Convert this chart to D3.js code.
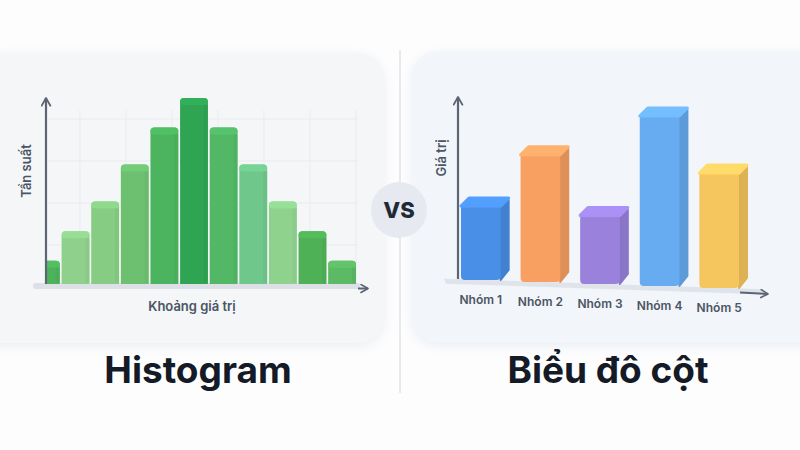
<!DOCTYPE html>
<meta charset="utf-8">
<style>
    body { margin: 0; background: #fdfdfe; }
    text { font-family: Inter, "Noto Sans", sans-serif; }
    .axisLabel { font-size: 13px; font-weight: 600; fill: #4b5563; }
    .title { font-size: 37px; font-weight: 700; fill: #141a26; }
</style>
<body>
    <script src="https://d3js.org/d3.v7.min.js"></script>
    <script>
        // data
        let histBins = d3.range(11);
        let histFreq = [3, 7, 11, 16, 21, 25, 21, 16, 11, 7, 3];
        let histColors = ['#4db35a', '#8fd18c', '#86cc82', '#6cc070', '#4cb45e', '#2fa553',
                          '#52b866', '#6fc78b', '#8ed28e', '#4fb155', '#5cb964'];

        let groups = ['Nhóm 1', 'Nhóm 2', 'Nhóm 3', 'Nhóm 4', 'Nhóm 5'];
        let groupValues = [46, 76, 43, 100, 69];
        let groupColors = ['#4a8fe7', '#f7a062', '#9a82dc', '#67abf0', '#f6c65e'];

        let width = 800, height = 450;
        let svg = d3.select("body").append("svg")
            .attr("width", width)
            .attr("height", height);

        let defs = svg.append("defs");
        let blur = defs.append("filter").attr("id", "soft")
            .attr("x", "-20%").attr("y", "-20%").attr("width", "140%").attr("height", "140%");
        blur.append("feGaussianBlur").attr("stdDeviation", 6);

        function arrowHead(id) {
            defs.append("marker").attr("id", id)
                .attr("viewBox", "0 0 10 10").attr("refX", 8).attr("refY", 5)
                .attr("markerWidth", 5).attr("markerHeight", 5)
                .attr("orient", "auto")
              .append("path")
                .attr("d", "M1,1 L8,5 L1,9")
                .attr("fill", "none").attr("stroke", "#5b6574").attr("stroke-width", 1.6)
                .attr("stroke-linecap", "round").attr("stroke-linejoin", "round");
        }
        arrowHead("arr");

        // panels
        svg.append("rect").attr("x", -30).attr("y", 56).attr("width", 414).attr("height", 290)
            .attr("rx", 26).attr("fill", "#eaedf2").attr("filter", "url(#soft)");
        svg.append("rect").attr("x", -30).attr("y", 53).attr("width", 414).attr("height", 290)
            .attr("rx", 26).attr("fill", "#f4f6f8");
        svg.append("rect").attr("x", 412).attr("y", 54).attr("width", 420).attr("height", 292)
            .attr("rx", 26).attr("fill", "#e9edf3").attr("filter", "url(#soft)");
        svg.append("rect").attr("x", 412).attr("y", 51).attr("width", 420).attr("height", 292)
            .attr("rx", 26).attr("fill", "#f2f5fa");

        // divider + VS
        svg.append("line").attr("x1", 400).attr("x2", 400).attr("y1", 50).attr("y2", 393)
            .attr("stroke", "#d3d6db").attr("stroke-width", 1);
        svg.append("circle").attr("cx", 399).attr("cy", 210).attr("r", 28).attr("fill", "#e7e9f0");
        svg.append("text").attr("x", 399).attr("y", 218).attr("text-anchor", "middle")
            .style("font-size", "22px").style("font-weight", 800).attr("fill", "#1f2937")
            .text("VS");

        // ---------- Histogram ----------
        let hx = d3.scaleBand().domain(histBins).range([32, 356]).paddingInner(0.06);
        let hy = d3.scaleLinear().domain([0, 25]).range([283, 98]);

        let hg = svg.append("g");
        // faint grid
        let gridY = d3.scaleLinear().domain([0, 4]).range([287, 119]);
        hg.selectAll(".gy").data(d3.range(1, 5)).join("line")
            .attr("x1", 48).attr("x2", 358)
            .attr("y1", d => gridY(d)).attr("y2", d => gridY(d))
            .attr("stroke", "#e9ecef").attr("stroke-width", 1);
        hg.selectAll(".gx").data(d3.range(0, 7)).join("line")
            .attr("x1", d => 80 + d * 46).attr("x2", d => 80 + d * 46)
            .attr("y1", 110).attr("y2", 283)
            .attr("stroke", "#e9ecef").attr("stroke-width", 1);

        // floor plate
        hg.append("rect").attr("x", 33).attr("y", 283).attr("width", 327).attr("height", 6)
            .attr("rx", 2).attr("fill", "#dde1e7");
        hg.append("line").attr("x1", 358).attr("x2", 368).attr("y1", 288.5).attr("y2", 288.5)
            .attr("stroke", "#5b6574").attr("stroke-width", 2).attr("marker-end", "url(#arr)");

        defs.append("clipPath").attr("id", "histClip")
          .append("rect").attr("x", 47).attr("y", 0).attr("width", 360).attr("height", 284);

        let bars = hg.append("g").attr("clip-path", "url(#histClip)")
            .selectAll("g").data(histBins).join("g");
        bars.append("rect")
            .attr("x", d => hx(d)).attr("width", hx.bandwidth())
            .attr("y", d => hy(histFreq[d])).attr("height", d => 283 - hy(histFreq[d]) + 4)
            .attr("rx", 4)
            .attr("fill", d => histColors[d]);
        bars.append("rect")
            .attr("x", d => hx(d)).attr("width", hx.bandwidth())
            .attr("y", d => hy(histFreq[d])).attr("height", 7)
            .attr("rx", 4)
            .attr("fill", d => d3.color(histColors[d]).brighter(0.18));
        bars.append("rect")
            .attr("x", d => hx(d) + hx.bandwidth() - 4).attr("width", 4)
            .attr("y", d => hy(histFreq[d]) + 7).attr("height", d => 283 - hy(histFreq[d]) - 7)
            .attr("fill", d => d3.color(histColors[d]).darker(0.2)).attr("opacity", 0.5);

        // y axis
        hg.append("line").attr("x1", 46).attr("x2", 46).attr("y1", 284).attr("y2", 98)
            .attr("stroke", "#5b6574").attr("stroke-width", 2.2).attr("marker-end", "url(#arr)");

        hg.append("text").attr("class", "axisLabel")
            .attr("transform", "translate(31,171) rotate(-90)")
            .attr("text-anchor", "middle").text("Tần suất");
        hg.append("text").attr("class", "axisLabel")
            .attr("x", 192).attr("y", 311).attr("text-anchor", "middle")
            .text("Khoảng giá trị");

        svg.append("text").attr("class", "title")
            .attr("x", 198).attr("y", 383).attr("text-anchor", "middle").text("Histogram");

        // ---------- Bar chart ----------
        let bx = d3.scaleBand().domain(groups).range([458, 750]).paddingInner(0.2).paddingOuter(0.05);
        let floorY = d3.scaleLinear().domain([440, 770]).range([278.5, 289.5]);
        let bh = d3.scaleLinear().domain([0, 100]).range([0, 178]);
        let depth = 8;

        let bg = svg.append("g");
        // floor plate (slanted)
        bg.append("path")
            .attr("d", "M444," + floorY(444) + " L765," + floorY(765) + " L763," + (floorY(765) + 5) +
                " L446," + (floorY(444) + 5) + " Z")
            .attr("fill", "#dfe3ea");
        bg.append("line").attr("x1", 740).attr("y1", floorY(740) + 4).attr("x2", 768).attr("y2", floorY(768) + 4.5)
            .attr("stroke", "#5b6574").attr("stroke-width", 2).attr("marker-end", "url(#arr)");

        bg.append("line").attr("x1", 458).attr("x2", 458).attr("y1", 279).attr("y2", 97)
            .attr("stroke", "#5b6574").attr("stroke-width", 2.2).attr("marker-end", "url(#arr)");

        let cols = bg.selectAll(".col").data(groups).join("g");
        cols.each(function (g, i) {
            let x0 = bx(g), w = bx.bandwidth() - depth;
            let x1 = x0 + w;
            let base = floorY(x0 + bx.bandwidth() / 2);
            let top = base - bh(groupValues[i]);
            let c = d3.color(groupColors[i]);
            let sel = d3.select(this);
            // side face
            sel.append("path")
                .attr("d", "M" + x1 + "," + (top + depth) + " L" + (x1 + depth) + "," + (top + 2) +
                    " L" + (x1 + depth) + "," + (base - depth - 2) + " L" + x1 + "," + base + " Z")
                .attr("fill", c.darker(0.3)).attr("stroke", c.darker(0.3))
                .attr("stroke-width", 2).attr("stroke-linejoin", "round");
            // front face
            sel.append("rect").attr("x", x0).attr("y", top + depth - 2)
                .attr("width", w).attr("height", base - top - depth + 2).attr("rx", 4)
                .attr("fill", c);
            // top face
            sel.append("path")
                .attr("d", "M" + x0 + "," + (top + depth) + " L" + (x0 + depth) + "," + top +
                    " L" + (x1 + depth) + "," + top + " L" + x1 + "," + (top + depth) + " Z")
                .attr("fill", c.brighter(0.3)).attr("stroke", c.brighter(0.3))
                .attr("stroke-width", 3).attr("stroke-linejoin", "round");
        });

        bg.selectAll(".xl").data(groups).join("text")
            .attr("class", "axisLabel")
            .style("font-size", "12px")
            .attr("x", d => bx(d) + bx.bandwidth() / 2 - 4)
            .attr("y", d => floorY(bx(d) + bx.bandwidth() / 2) + 24)
            .attr("text-anchor", "middle")
            .text(d => d);

        bg.append("text").attr("class", "axisLabel")
            .attr("transform", "translate(446,158) rotate(-90)")
            .attr("text-anchor", "middle").text("Giá trị");

        svg.append("text").attr("class", "title")
            .attr("x", 608).attr("y", 383).attr("text-anchor", "middle").text("Biểu đô cột");
    </script>
</body>
